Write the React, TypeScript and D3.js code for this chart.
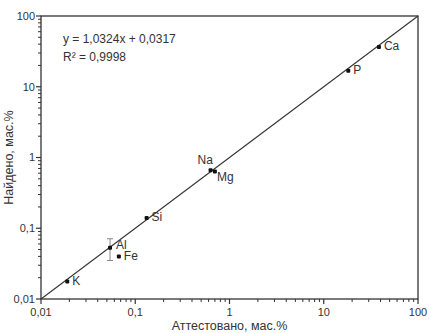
import { useEffect, useRef } from "react"
import * as d3 from "d3"

// certified vs found, mass %
const elements = ["K", "Al", "Fe", "Si", "Na", "Mg", "P", "Ca"]
const certified = [0.019, 0.054, 0.067, 0.132, 0.63, 0.7, 18.2, 38.5]
const found = [0.0177, 0.053, 0.04, 0.14, 0.66, 0.635, 16.8, 36.5]
const errors = [0, 0.018, 0, 0, 0, 0, 0, 0]
// label offsets [dx, dy] in px
const labelPos: [number, number][] = [
  [5, 4], [6, 1], [5, 4], [5, 3], [-13, -6], [2, 10], [5, 3], [5, 3],
]
const lineEnds = [0.01, 100]
const decadeTicks = [0.01, 0.1, 1, 10, 100]
const tickLabels = ["0,01", "0,1", "1", "10", "100"]

const INK = "#333"
const FONT = "'Liberation Sans', Arial, sans-serif"

export default function App() {
  const ref = useRef<SVGSVGElement>(null)

  useEffect(() => {
    if (!ref.current) return
    const svg = d3.select(ref.current)
    svg.selectAll("*").remove()

    const W = 430
    const H = 333
    const M = { top: 16, right: 12, bottom: 34, left: 41 }
    const pw = W - M.left - M.right
    const ph = H - M.top - M.bottom

    const x = d3.scaleLog().domain([0.01, 100]).range([0, pw])
    const y = d3.scaleLog().domain([0.01, 100]).range([ph, 0])

    const g = svg.append("g").attr("transform", `translate(${M.left},${M.top})`)

    // minor ticks 2..9 per decade
    const minor: number[] = []
    decadeTicks.slice(0, -1).forEach((d) => {
      for (let k = 2; k <= 9; k++) minor.push(d * k)
    })

    // frame
    g.append("rect")
      .attr("width", pw)
      .attr("height", ph)
      .attr("fill", "none")
      .attr("stroke", INK)
      .attr("stroke-width", 1.3)

    // x ticks
    g.append("g")
      .selectAll("line")
      .data(minor)
      .join("line")
      .attr("x1", (t) => x(t))
      .attr("x2", (t) => x(t))
      .attr("y1", ph)
      .attr("y2", ph + 3)
      .attr("stroke", INK)
    g.append("g")
      .selectAll("line")
      .data(decadeTicks)
      .join("line")
      .attr("x1", (t) => x(t))
      .attr("x2", (t) => x(t))
      .attr("y1", ph)
      .attr("y2", ph + 5)
      .attr("stroke", INK)
      .attr("stroke-width", 1.2)
    g.append("g")
      .selectAll("text")
      .data(decadeTicks)
      .join("text")
      .attr("x", (t) => x(t))
      .attr("y", ph + 17)
      .attr("text-anchor", "middle")
      .attr("font-family", FONT)
      .attr("font-size", 11)
      .attr("fill", INK)
      .text((_, i) => tickLabels[i])

    // y ticks
    g.append("g")
      .selectAll("line")
      .data(minor)
      .join("line")
      .attr("y1", (t) => y(t))
      .attr("y2", (t) => y(t))
      .attr("x1", 0)
      .attr("x2", -3)
      .attr("stroke", INK)
    g.append("g")
      .selectAll("line")
      .data(decadeTicks)
      .join("line")
      .attr("y1", (t) => y(t))
      .attr("y2", (t) => y(t))
      .attr("x1", 0)
      .attr("x2", -5)
      .attr("stroke", INK)
      .attr("stroke-width", 1.2)
    g.append("g")
      .selectAll("text")
      .data(decadeTicks)
      .join("text")
      .attr("x", -6)
      .attr("y", (t) => y(t))
      .attr("dy", "0.35em")
      .attr("text-anchor", "end")
      .attr("font-family", FONT)
      .attr("font-size", 11)
      .attr("fill", INK)
      .text((_, i) => tickLabels[i])

    // axis titles
    g.append("text")
      .attr("x", pw / 2)
      .attr("y", ph + 31)
      .attr("text-anchor", "middle")
      .attr("font-family", FONT)
      .attr("font-size", 12.5)
      .attr("fill", INK)
      .text("Аттестовано, мас.%")
    g.append("text")
      .attr("transform", `translate(-28, ${ph / 2}) rotate(-90)`)
      .attr("text-anchor", "middle")
      .attr("font-family", FONT)
      .attr("font-size", 12.5)
      .attr("fill", INK)
      .text("Найдено, мас.%")

    // 1:1 line
    g.append("line")
      .attr("x1", x(lineEnds[0]))
      .attr("y1", y(lineEnds[0]))
      .attr("x2", x(lineEnds[1]))
      .attr("y2", y(lineEnds[1]))
      .attr("stroke", INK)
      .attr("stroke-width", 1.1)

    // error bars
    elements.forEach((_, i) => {
      if (!errors[i]) return
      const cx = x(certified[i])
      const y1 = y(found[i] + errors[i])
      const y2 = y(found[i] - errors[i])
      const eb = g.append("g").attr("stroke", "#888").attr("stroke-width", 1)
      eb.append("line").attr("x1", cx).attr("x2", cx).attr("y1", y1).attr("y2", y2)
      eb.append("line").attr("x1", cx - 3).attr("x2", cx + 3).attr("y1", y1).attr("y2", y1)
      eb.append("line").attr("x1", cx - 3).attr("x2", cx + 3).attr("y1", y2).attr("y2", y2)
    })

    // points
    g.append("g")
      .selectAll("rect")
      .data(elements)
      .join("rect")
      .attr("x", (_, i) => x(certified[i]) - 2)
      .attr("y", (_, i) => y(found[i]) - 2)
      .attr("width", 4)
      .attr("height", 4)
      .attr("rx", 1)
      .attr("fill", "#111")

    g.append("g")
      .selectAll("text")
      .data(elements)
      .join("text")
      .attr("x", (_, i) => x(certified[i]) + labelPos[i][0])
      .attr("y", (_, i) => y(found[i]) + labelPos[i][1])
      .attr("font-family", FONT)
      .attr("font-size", 12)
      .attr("fill", INK)
      .text((d) => d)

    // regression text
    g.append("text")
      .attr("x", 22)
      .attr("y", 27)
      .attr("font-family", FONT)
      .attr("font-size", 12)
      .attr("fill", INK)
      .text("y = 1,0324x + 0,0317")
    g.append("text")
      .attr("x", 22)
      .attr("y", 45)
      .attr("font-family", FONT)
      .attr("font-size", 12)
      .attr("fill", INK)
      .text("R² = 0,9998")
  }, [])

  return (
    <svg
      ref={ref}
      width={430}
      height={333}
      style={{ display: "block", position: "absolute", left: 0, top: 0, background: "#fff" }}
    />
  )
}
